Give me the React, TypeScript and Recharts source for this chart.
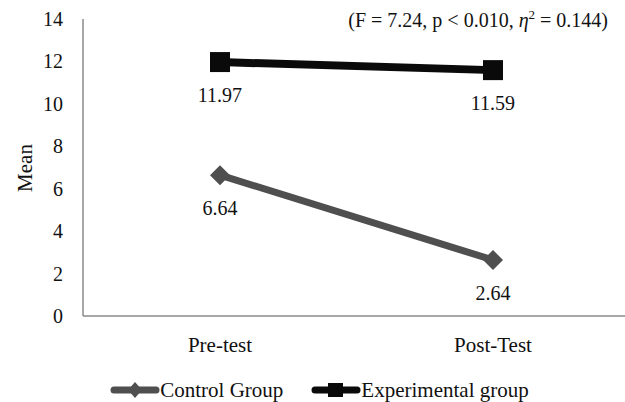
import { LineChart, Line, XAxis, YAxis, Legend, LabelList, Customized } from "recharts";

const categories = ["Pre-test", "Post-Test"];
const controlValues = [6.64, 2.64];
const experimentalValues = [11.97, 11.59];
const yTicks = [0, 2, 4, 6, 8, 10, 12, 14];

const data = categories.map((name, i) => ({
  name,
  control: controlValues[i],
  experimental: experimentalValues[i],
}));

const FONT = "'Liberation Serif', 'Times New Roman', serif";
const CONTROL_COLOR = "#4f4f4f";
const EXP_COLOR = "#0a0a0a";

function XTick({ x, y, payload }: any) {
  return (
    <text x={x} y={y + 28} textAnchor="middle" fontFamily={FONT} fontSize={21} fill="#111">
      {payload.value}
    </text>
  );
}

function YTick({ x, y, payload }: any) {
  return (
    <text x={x - 12} y={y + 7} textAnchor="end" fontFamily={FONT} fontSize={20} fill="#111">
      {payload.value}
    </text>
  );
}

function SquareDot({ cx, cy }: any) {
  return <rect x={cx - 10} y={cy - 10} width={20} height={20} fill={EXP_COLOR} />;
}

function DiamondDot({ cx, cy }: any) {
  return (
    <polygon
      points={`${cx},${cy - 10} ${cx + 10},${cy} ${cx},${cy + 10} ${cx - 10},${cy}`}
      fill={CONTROL_COLOR}
    />
  );
}

function ValueLabel({ x, y, value }: any) {
  return (
    <text x={x} y={y + 40} textAnchor="middle" fontFamily={FONT} fontSize={20} fill="#111">
      {value}
    </text>
  );
}

function Annotation() {
  return (
    <text x={608} y={27} textAnchor="end" fontFamily={FONT} fontSize={20} fill="#111">
      (F = 7.24, p {"<"} 0.010, <tspan fontStyle="italic">η</tspan>
      <tspan fontSize={13} dy={-8}>2</tspan>
      <tspan dy={8}> = 0.144)</tspan>
    </text>
  );
}

function LegendIcon({ kind }: { kind: "diamond" | "square" }) {
  const color = kind === "diamond" ? CONTROL_COLOR : EXP_COLOR;
  return (
    <svg width={50} height={20} style={{ display: "block" }}>
      <line x1={4} y1={10} x2={46} y2={10} stroke={color} strokeWidth={7} strokeLinecap="round" />
      {kind === "diamond" ? (
        <polygon points="25,2 32,10 25,18 18,10" fill={color} />
      ) : (
        <rect x={17} y={3} width={15} height={14} fill={color} />
      )}
    </svg>
  );
}

function LegendContent() {
  return (
    <div
      style={{
        height: 24,
        display: "flex",
        justifyContent: "center",
        alignItems: "center",
        gap: 28,
        paddingLeft: 14,
        fontFamily: FONT,
        fontSize: 21,
        color: "#111",
      }}
    >
      <div style={{ display: "flex", alignItems: "center" }}>
        <LegendIcon kind="diamond" />
        <span>Control Group</span>
      </div>
      <div style={{ display: "flex", alignItems: "center" }}>
        <LegendIcon kind="square" />
        <span>Experimental group</span>
      </div>
    </div>
  );
}

export default function App() {
  return (
    <div style={{ position: "absolute", left: 0, top: 0, width: 625, height: 402, background: "#fff" }}>
      <LineChart width={625} height={402} data={data} margin={{ top: 19, right: 0, bottom: 0, left: 0 }}>
        <XAxis
          dataKey="name"
          height={62}
          tick={<XTick />}
          tickLine={false}
          axisLine={{ stroke: "#8a8a8a", strokeWidth: 1.5 }}
          interval={0}
          padding={{ left: 137, right: 132 }}
        />
        <YAxis
          width={83}
          domain={[0, 14]}
          ticks={yTicks}
          tick={<YTick />}
          tickLine={false}
          axisLine={{ stroke: "#8a8a8a", strokeWidth: 1.5 }}
          label={{
            content: () => (
              <text
                x={32}
                y={168}
                transform="rotate(-90, 32, 168)"
                textAnchor="middle"
                fontFamily={FONT}
                fontSize={21}
                fill="#111"
              >
                Mean
              </text>
            ),
          }}
        />
        <Legend verticalAlign="bottom" content={<LegendContent />} />
        <Line
          dataKey="control"
          stroke={CONTROL_COLOR}
          strokeWidth={7}
          dot={<DiamondDot />}
          activeDot={false}
          isAnimationActive={false}
        >
          <LabelList dataKey="control" content={<ValueLabel />} />
        </Line>
        <Line
          dataKey="experimental"
          stroke={EXP_COLOR}
          strokeWidth={8}
          dot={<SquareDot />}
          activeDot={false}
          isAnimationActive={false}
        >
          <LabelList dataKey="experimental" content={<ValueLabel />} />
        </Line>
        <Customized component={<Annotation />} />
      </LineChart>
    </div>
  );
}
